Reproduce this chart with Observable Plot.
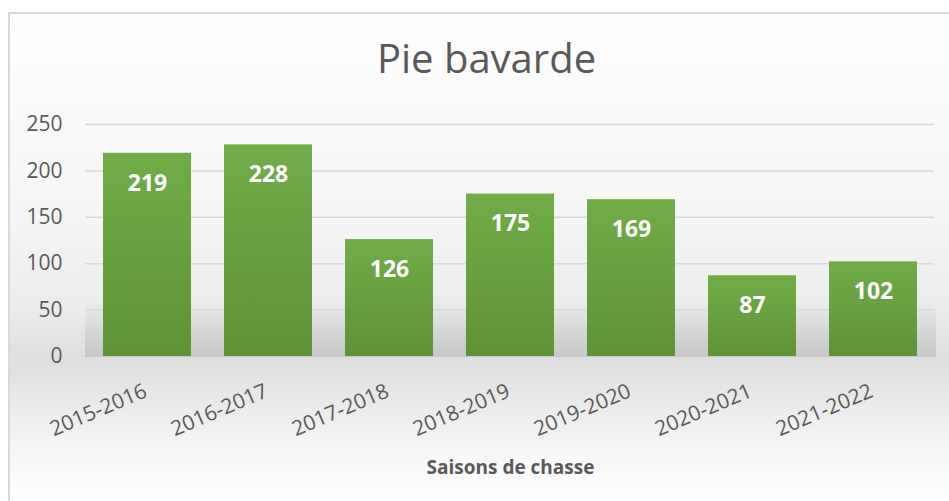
<!DOCTYPE html>
<html>
<head>
<meta charset="utf-8">
<script src="https://cdn.jsdelivr.net/npm/d3@7"></script>
<script src="https://cdn.jsdelivr.net/npm/@observablehq/plot@0.6"></script>
<style>
  html, body { margin: 0; padding: 0; background: #fff; }
  #wrap { position: relative; width: 949px; height: 501px; overflow: hidden; font-family: "Open Sans", sans-serif; }
  #frame { position: absolute; left: 8px; top: 12px; width: 960px; height: 520px;
    border: 2px solid #d9d9d9; box-sizing: border-box;
    background: linear-gradient(to bottom, #ffffff 0px, #f5f5f5 200px, #ececec 290px, #dedede 346px, #e2e2e2 360px, #f7f7f7 440px, #ffffff 485px); }
  #band { position: absolute; left: 85px; top: 300px; width: 851px; height: 57px;
    background: linear-gradient(to bottom, rgba(0,0,0,0) 0%, rgba(0,0,0,0.07) 60%, rgba(0,0,0,0.11) 100%); }
  #title { position: absolute; left: 0; width: 973px; top: 38px; text-align: center; font-size: 40px; color: #595959; line-height: 1; }
  #xtitle { position: absolute; left: 85px; width: 851px; top: 458px; text-align: center; font-size: 19px; font-weight: bold; color: #595959; line-height: 1; }
  #chart { position: absolute; left: 0; top: 0; }
  #chart svg text { font-family: "Open Sans", sans-serif; }
</style>
</head>
<body>
<div id="wrap">
  <div id="frame"></div>
  <div id="band"></div>
  <div id="chart"></div>
  <div id="title">Pie bavarde</div>
  <div id="xtitle">Saisons de chasse</div>
</div>
<script>
const seasons = ["2015-2016","2016-2017","2017-2018","2018-2019","2019-2020","2020-2021","2021-2022"];
const counts = [219, 228, 126, 175, 169, 87, 102];
const yTicks = [0, 50, 100, 150, 200, 250];

const data = seasons.map((s, i) => ({season: s, value: counts[i]}));

const chart = Plot.plot({
  width: 949,
  height: 501,
  marginTop: 124,
  marginBottom: 145,
  marginLeft: 83,
  marginRight: 13,
  style: { background: "transparent", fontFamily: "Open Sans, sans-serif", fontSize: "20px", overflow: "visible" },
  x: { domain: seasons, paddingInner: 0.275, paddingOuter: 0.1375, label: null, axis: null },
  y: { domain: [0, 250], label: null },
  marks: [
    () => {
      const svg = d3.create("svg:defs");
      const g = svg.append("linearGradient").attr("id", "barGrad").attr("x1", 0).attr("y1", 0).attr("x2", 0).attr("y2", 1);
      g.append("stop").attr("offset", "0%").attr("stop-color", "#70ad47");
      g.append("stop").attr("offset", "100%").attr("stop-color", "#5e9338");
      return svg.node();
    },
    Plot.gridY(yTicks.filter(d => d > 0), { stroke: "#d9d9d9", strokeOpacity: 1, strokeWidth: 1.5, insetLeft: 2, insetRight: 2 }),
    Plot.axisY(yTicks, { tickSize: 0, tickPadding: 21, fontSize: 21, fill: "#595959", label: null }),
    Plot.barY(data, { x: "season", y: "value", fill: "url(#barGrad)" }),
    Plot.text(data, { x: "season", y: "value", text: d => String(d.value), dy: 30, fill: "white", fontSize: 23, fontWeight: "bold", lineAnchor: "middle" }),
    Plot.text(seasons, { x: d => d, frameAnchor: "bottom", text: d => d, rotate: -23, textAnchor: "end", lineAnchor: "top", dy: 26, dx: -5, fontSize: 21, fill: "#595959" })
  ]
});
document.getElementById("chart").appendChild(chart);
</script>
</body>
</html>
